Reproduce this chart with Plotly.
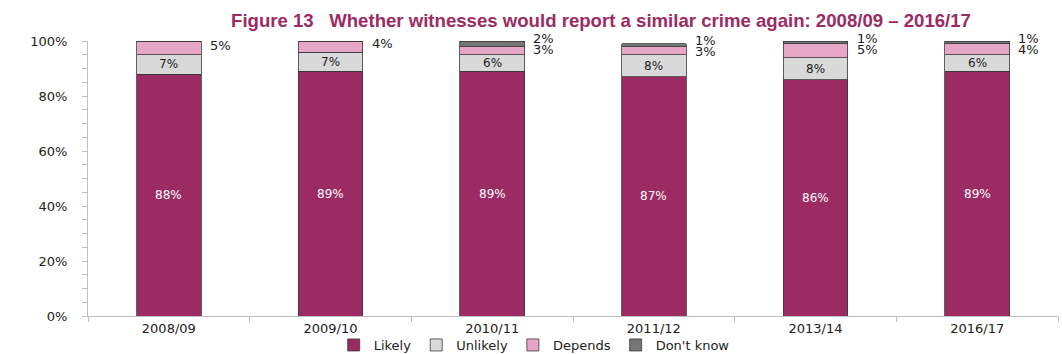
import plotly.graph_objects as go

categories = ["2008/09", "2009/10", "2010/11", "2011/12", "2013/14", "2016/17"]
likely = [88, 89, 89, 87, 86, 89]
unlikely = [7, 7, 6, 8, 8, 6]
depends = [5, 4, 3, 3, 5, 4]
dont_know = [0, 0, 2, 1, 1, 1]
y_ticks = [0, 20, 40, 60, 80, 100]
y_tick_labels = ["0%", "20%", "40%", "60%", "80%", "100%"]

colors = {"Likely": "#9B2B62", "Unlikely": "#D9D9D9", "Depends": "#E8A6C6", "Don't know": "#767676"}
FONT = "DejaVu Sans, Verdana, sans-serif"

fig = go.Figure()
series = [("Likely", likely), ("Unlikely", unlikely), ("Depends", depends), ("Don't know", dont_know)]
for name, vals in series:
    fig.add_trace(go.Bar(
        x=categories, y=vals, name=name,
        marker=dict(color=colors[name], line=dict(color="#3a3a3a", width=0.8)),
        hoverinfo="skip",
    ))

for i, c in enumerate(categories):
    # inside labels
    fig.add_annotation(x=c, y=likely[i] / 2, text=f"{likely[i]}%", showarrow=False,
                       xanchor="center", yanchor="middle",
                       font=dict(size=12, color="white", family=FONT))
    fig.add_annotation(x=c, y=likely[i] + unlikely[i] / 2, text=f"{unlikely[i]}%", showarrow=False,
                       xanchor="center", yanchor="middle",
                       font=dict(size=12, color="#222", family=FONT))
    # outside labels for Depends / Don't know
    total = likely[i] + unlikely[i] + depends[i] + dont_know[i]
    if dont_know[i] > 0:
        fig.add_annotation(x=c, y=total, text=f"{dont_know[i]}%",
                           showarrow=False, xanchor="left", yanchor="middle",
                           xshift=39, yshift=3, font=dict(size=13, color="#222", family=FONT))
        fig.add_annotation(x=c, y=total, text=f"{depends[i]}%",
                           showarrow=False, xanchor="left", yanchor="middle",
                           xshift=39, yshift=-8, font=dict(size=13, color="#222", family=FONT))
    else:
        fig.add_annotation(x=c, y=total - depends[i] / 2 + 1, text=f"{depends[i]}%",
                           showarrow=False, xanchor="left", yanchor="middle",
                           xshift=39, font=dict(size=13, color="#222", family=FONT))

fig.update_layout(
    barmode="stack",
    bargap=0.6,
    width=1062, height=354,
    margin=dict(l=88, r=4, t=41, b=38, autoexpand=False),
    plot_bgcolor="white", paper_bgcolor="white",
    font=dict(family=FONT, size=13, color="#222"),
    title=dict(text="<b>Figure 13   Whether witnesses would report a similar crime again: 2008/09 – 2016/17</b>",
               x=601 / 1062, xanchor="center", xref="container",
               y=1 - 20 / 354, yanchor="middle", yref="container",
               font=dict(family="Liberation Sans, Arial, sans-serif", size=18.6, color="#9B2B62")),
    legend=dict(orientation="h", x=0.46, xanchor="center", xref="paper",
                y=1 - 330 / 354, yanchor="top", yref="container",
                font=dict(size=13, family=FONT, color="#222"), itemwidth=30,
                traceorder="normal", itemclick=False, bgcolor="rgba(0,0,0,0)"),
    showlegend=True,
)
fig.update_xaxes(showline=True, linecolor="#BFBFBF", linewidth=1, tickson="boundaries",
                 ticks="outside", ticklen=5, tickcolor="#BFBFBF", showgrid=False,
                 tickfont=dict(size=13, family=FONT, color="#222"))
fig.update_yaxes(range=[0, 100], tickvals=y_ticks, ticktext=y_tick_labels,
                 showline=True, linecolor="#BFBFBF", linewidth=1, ticks="outside", ticklen=5,
                 tickcolor="#BFBFBF", showgrid=False, zeroline=False,
                 minor=dict(dtick=5, ticks="outside", ticklen=5, tickcolor="#BFBFBF", showgrid=False),
                 ticklabelstandoff=12,
                 tickfont=dict(size=13, family=FONT, color="#222"))

fig.write_html("out.html")
